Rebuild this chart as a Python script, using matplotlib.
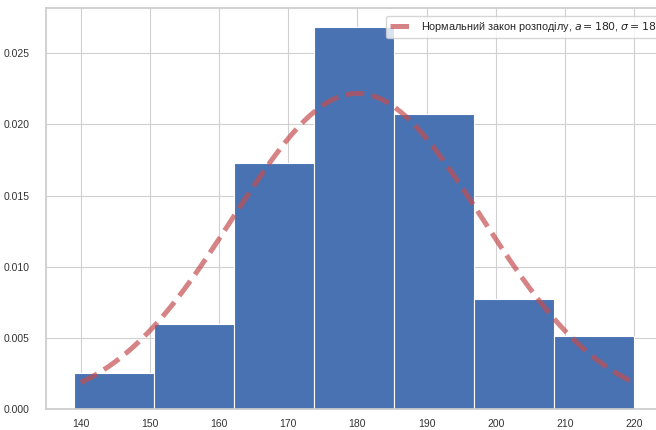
import numpy as np
import matplotlib
matplotlib.use('Agg')
import matplotlib.pyplot as plt
import seaborn as sns

sns.set_theme(style='whitegrid')
plt.rcParams['font.family'] = ['Liberation Sans', 'DejaVu Sans']

# histogram bins and densities
bin_edges = [139.0, 150.57, 162.14, 173.71, 185.29, 196.86, 208.43, 220.0]
densities = [0.00257, 0.00600, 0.01728, 0.02680, 0.02075, 0.00774, 0.00515]

# normal law parameters
a = 180
sigma = 18
x_min, x_max = 140, 220

fig = plt.figure(figsize=(6.56, 4.30), dpi=100)
ax = fig.add_axes([0.070, 0.048, 0.939, 0.933])

centers = [(bin_edges[i] + bin_edges[i + 1]) / 2 for i in range(len(densities))]
ax.hist(centers, bins=bin_edges, weights=densities, color='#4872b1',
        edgecolor='white', linewidth=0.8)

x = np.linspace(x_min, x_max, 200)
pdf = np.exp(-(x - a) ** 2 / (2 * sigma ** 2)) / (sigma * np.sqrt(2 * np.pi))
ax.plot(x, pdf, '--', color='#c44e52', alpha=0.7, lw=3.6,
        label=r'Нормальний закон розподілу, $a = 180$, $\sigma = 18$')

ax.set_xticks(range(140, 221, 10))
ax.set_yticks([0.0, 0.005, 0.01, 0.015, 0.02, 0.025])
ax.set_yticklabels(['0.000', '0.005', '0.010', '0.015', '0.020', '0.025'])
ax.grid(linewidth=0.8, color='#d0d0d0')
ax.tick_params(labelsize=7.5, colors='#333333')
ax.tick_params(axis='y', pad=6)
ax.tick_params(axis='x', pad=1)
ax.legend(loc='upper right', bbox_to_anchor=(1.006, 0.995), fontsize=7.8,
          frameon=True)

fig.savefig('out.png', dpi=100)
